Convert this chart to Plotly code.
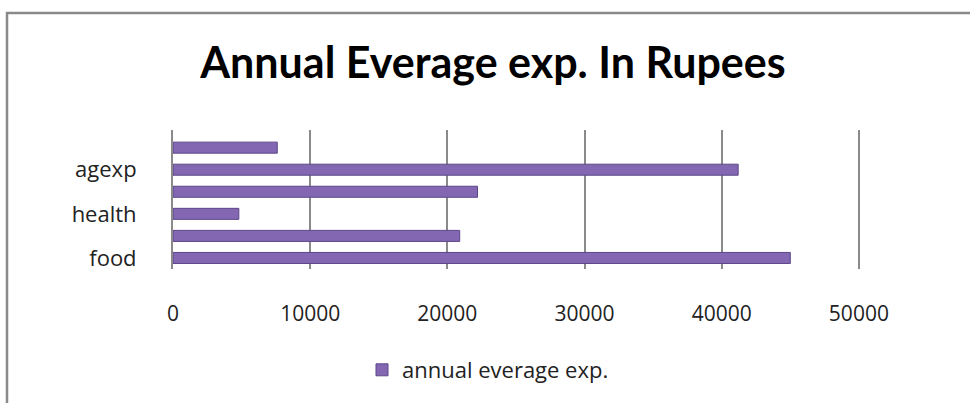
import plotly.graph_objects as go

# data (bottom to top, as drawn)
tick_labels = ["food", "", "health", "", "agexp", ""]
values = [45000, 20900, 4800, 22200, 41200, 7600]
series_name = "annual everage exp."
title_text = "Annual Everage exp. In Rupees"
x_ticks = [0, 10000, 20000, 30000, 40000, 50000]

positions = list(range(len(values)))

fig = go.Figure()
fig.add_trace(go.Bar(
    x=values,
    y=positions,
    orientation="h",
    name=series_name,
    width=0.5,
    marker=dict(color="#8467B3", line=dict(color="#5B4788", width=1)),
    showlegend=True,
))

W, H = 970, 403
L, R, T, B = 173, 107, 130, 134

fig.update_layout(
    width=W, height=H,
    margin=dict(l=L, r=R, t=T, b=B),
    paper_bgcolor="white",
    plot_bgcolor="white",
    font=dict(family="Open Sans", color="#222222"),
    title=dict(
        text="<b>" + title_text + "</b>",
        font=dict(family="Lato", size=43, color="black"),
        x=493 / W, xref="container", xanchor="center",
        y=1 - 63 / H, yref="container", yanchor="middle",
    ),
    bargap=0.5,
    showlegend=True,
    legend=dict(
        orientation="h",
        x=488 / W, xref="container", xanchor="center",
        y=1 - 370 / H, yref="container", yanchor="middle",
        font=dict(family="Open Sans", size=22, color="#222222"),
        itemwidth=30,
    ),
    xaxis=dict(
        range=[0, 50300],
        tickvals=x_ticks,
        ticktext=[str(v) for v in x_ticks],
        showgrid=True, gridcolor="#8a8a8a", gridwidth=1.5,
        zeroline=False,
        ticks="outside", ticklen=26, tickcolor="rgba(0,0,0,0)",
        tickfont=dict(family="Open Sans", size=21, color="#222222"),
        showline=False,
    ),
    yaxis=dict(
        range=[-0.5, 5.8],
        tickvals=positions,
        ticktext=tick_labels,
        showgrid=False, zeroline=False,
        showline=True, linecolor="#8a8a8a", linewidth=2,
        ticks="outside", ticklen=30, tickcolor="rgba(0,0,0,0)",
        tickfont=dict(family="Open Sans", size=22, color="#222222"),
    ),
    shapes=[
        dict(type="rect", xref="paper", yref="paper",
             x0=(7 - L) / (W - L - R), x1=(W + 20 - L) / (W - L - R),
             y0=-(B + 20) / (H - T - B), y1=(H - B - 13) / (H - T - B),
             line=dict(color="#8a8a8a", width=2.5), layer="below"),
    ],
)

fig.write_html("out.html")
